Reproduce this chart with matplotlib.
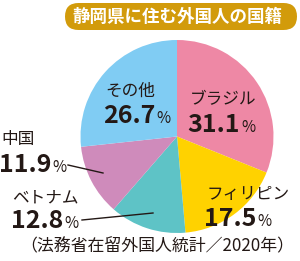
import matplotlib
matplotlib.use("Agg")
import matplotlib.pyplot as plt
from matplotlib.patches import FancyBboxPatch

plt.rcParams['font.family'] = ['Noto Sans CJK JP', 'DejaVu Sans']

# データ（法務省在留外国人統計／2020年）
paises = ['ブラジル', 'フィリピン', 'ベトナム', '中国', 'その他']
valores = [31.1, 17.5, 12.8, 11.9, 26.7]
colores = ['#EE88A5', '#FFD200', '#5EC3C6', '#CF8BBB', '#80CCF3']
titulo = '静岡県に住む外国人の国籍'
fuente = '（法務省在留外国人統計／2020年）'

H = 261
fig = plt.figure(figsize=(3.0, 2.61), dpi=100)
ax = fig.add_axes([0, 0, 1, 1])

def py(y):
    # coordenada en pixeles (desde arriba) -> datos
    return H - y

# Gráfica de pastel
ax.pie(valores, colors=colores, startangle=90, counterclock=False,
       center=(177, py(136.5)), radius=96.5, frame=True,
       wedgeprops=dict(linewidth=0))
ax.set_xlim(0, 300)
ax.set_ylim(0, H)
ax.set_aspect('equal')
ax.axis('off')

# Banda del título
banda = FancyBboxPatch((65, py(30)), 232, 27, boxstyle='round,pad=0,rounding_size=13.5',
                       facecolor='#D29B0B', edgecolor='none')
ax.add_patch(banda)
ax.text(177, py(16.5), titulo, color='white', fontsize=12.6, fontweight='bold',
        ha='center', va='center')

# Etiquetas: (nombre x, nombre baseline, fin del número, baseline del número)
pos = {
    'ブラジル': (190, 104, 240, 132),
    'フィリピン': (207, 199, 256, 226),
    'ベトナム': (12, 202, 63, 228),
    '中国': (1, 144, 51, 172),
    'その他': (105, 96, 155, 123),
}
for nombre, v in zip(paises, valores):
    xn, yn, xv, yv = pos[nombre]
    ax.text(xn, py(yn), nombre, fontsize=12, color='#231815', ha='left', va='baseline')
    ax.text(xv, py(yv), f'{v:.1f}', fontsize=18, fontweight='bold', color='#231815',
            ha='right', va='baseline')
    ax.text(xv + 1, py(yv), '%', fontsize=11, color='#231815', ha='left', va='baseline')

# Líneas guía
ax.plot([68, 103], [py(165), py(173)], color='#231815', lw=1)
ax.plot([82, 153], [py(220), py(213)], color='#231815', lw=1)

# Fuente
ax.text(157, py(246), fuente, fontsize=12.2, color='#231815', ha='center', va='center')

fig.savefig('out.png', dpi=100)
